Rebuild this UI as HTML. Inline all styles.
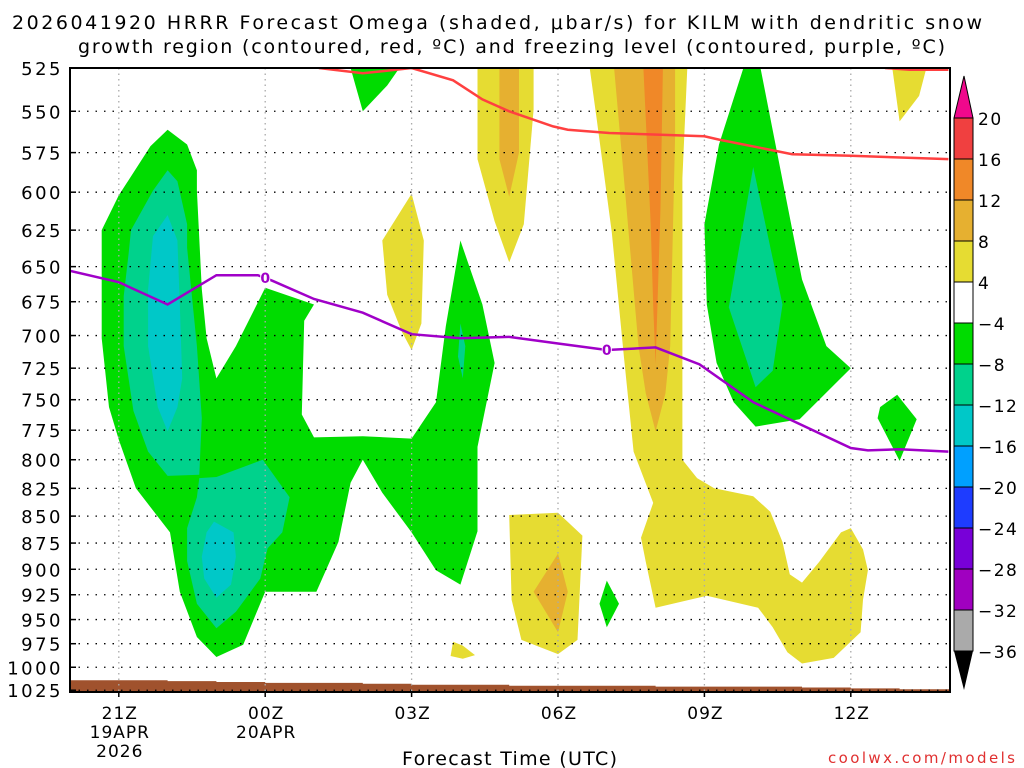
<!DOCTYPE html>
<html><head><meta charset="utf-8"><style>
html,body{margin:0;padding:0;background:#fff;width:1024px;height:768px;overflow:hidden}
svg{display:block}
text{font-family:"DejaVu Sans","Liberation Sans",sans-serif}
</style></head><body>
<svg id="chart" width="1024" height="768" viewBox="0 0 1024 768" xmlns="http://www.w3.org/2000/svg">
<text x="12" y="29" font-size="19" textLength="970" lengthAdjust="spacing">2026041920 HRRR Forecast Omega (shaded, μbar/s) for KILM with dendritic snow</text>
<text x="78" y="53" font-size="19" textLength="867" lengthAdjust="spacing">growth region (contoured, red, ºC) and freezing level (contoured, purple, ºC)</text>
<defs><clipPath id="plotclip"><rect x="70" y="68" width="880" height="624"/></clipPath></defs>
<g id="fills" clip-path="url(#plotclip)"></g>
<g id="grid"></g>
<g id="lines" clip-path="url(#plotclip)"></g>
<rect x="70" y="68" width="880" height="624" fill="none" stroke="#000" stroke-width="2"/>
<g id="axes"></g>
<g id="cbar"></g>
<text x="402" y="765" font-size="19" textLength="215" lengthAdjust="spacing">Forecast Time (UTC)</text>
<text x="828" y="763" font-size="15" fill="#e03030" textLength="187" lengthAdjust="spacing">coolwx.com/models</text>
</svg>
<script>
const pressureTicks=[525,550,575,600,625,650,675,700,725,750,775,800,825,850,875,900,925,950,975,1000,1025];
const timeTickHours=[1,4,7,10,13,16];
const timeTickLabels=[["21Z","19APR","2026"],["00Z","20APR"],["03Z"],["06Z"],["09Z"],["12Z"]];
const surfaceHours=[0,1,2,3,4,5,6,7,8,9,10,11,12,13,14,15,16,17,18];
const surfacePressure=[1014,1014,1015,1016,1017,1017,1018,1019,1019,1020,1020,1020,1021,1021,1021,1022,1023,1024,1024];
const dgzHours=[5.1,6.0,7.0,7.85,8.45,9.0,9.9,10.2,11.05,13.0,13.3,14.8,16.0,18.0];
const dgzPressure=[525,528,525,532,543,550,559,561,563,565,567,576,577,579];
const dgz2Hours=[16.7,17.2,18.0];
const dgz2Pressure=[525,526,526];
const frzHours=[0,1.0,2.0,3.0,3.85,4.15,5.0,6.0,7.0,8.0,9.0,10.0,11.0,12.0,12.9,14.0,16.0,16.35,17.0,18.0];
const frzPressure=[653,661,677,656,656,660,673,683,699,702,701,706,711,709,722,752,790,792,791,793];
const cbarLevels=["20","16","12","8","4","−4","−8","−12","−16","−20","−24","−28","−32","−36"];
const cbarColors=["#f04040","#f08828","#e6b030","#e6dc32","#ffffff","#00dc00","#00d28c","#00c8c8","#00a0ff","#1e3cff","#7800d8","#a000c0","#aaaaaa"];
const shadeGreenA=[[2.0,561],[2.4,570],[2.6,586],[2.6,599],[2.7,666],[2.8,702],[3.0,733],[3.4,708],[4.0,665],[5.0,677],[4.8,689],[4.75,762],[5.0,781],[6.0,780],[7.0,782],[7.5,752],[7.7,693],[8.0,632],[8.45,677],[8.7,721],[8.35,789],[8.35,864],[8.0,915],[7.5,901],[7.0,865],[6.4,829],[6.0,800],[5.75,820],[5.5,874],[5.05,922],[4.0,922],[3.55,976],[3.0,989],[2.6,968],[2.25,922],[2.05,865],[1.35,825],[1.0,783],[0.8,756],[0.65,702],[0.65,625],[1.0,602],[1.65,571]];
const shadeTealA=[[2.0,586],[2.2,593],[2.4,621],[2.4,637],[2.6,708],[2.7,765],[2.65,813],[2.0,814],[1.6,793],[1.3,759],[1.1,708],[1.1,671],[1.2,641],[1.25,625],[1.7,599]];
const shadeCyanA=[[2.0,615],[2.2,632],[2.25,677],[2.3,733],[2.2,756],[2.0,776],[1.8,756],[1.6,708],[1.6,666],[1.7,629]];
const shadeTealB=[[2.65,816],[3.0,815],[3.95,800],[4.5,833],[4.35,865],[4.05,880],[3.9,909],[3.4,942],[3.0,959],[2.6,934],[2.4,892],[2.4,861],[2.6,833]];
const shadeCyanB=[[2.95,855],[3.35,865],[3.4,888],[3.3,915],[3.0,928],[2.75,909],[2.7,888],[2.8,865]];
const shadeTealC=[[8.0,691],[8.1,708],[8.05,733],[7.95,716]];
const shadeGreenTop=[[5.75,525],[6.75,525],[6.5,535],[6.0,550],[5.85,535]];
const shadeYellow03=[[7.0,601],[7.25,632],[7.2,691],[7.0,711],[6.8,697],[6.5,670],[6.4,632]];
const shadeYellowTiny=[[7.85,973],[8.05,977],[8.3,987],[8.05,991],[7.8,988]];
const shadeYellow05=[[8.35,525],[9.5,525],[9.5,549],[9.3,621],[9.0,647],[8.7,619],[8.35,579]];
const shadeGold05=[[8.8,525],[9.2,525],[9.2,575],[9.0,603],[8.8,579]];
const shadeYellowCol=[[10.65,525],[12.65,525],[12.55,591],[12.55,677],[12.55,800],[12.85,816],[13.2,825],[14.0,832],[14.35,846],[14.6,874],[14.75,905],[15.0,913],[15.35,893],[15.8,865],[16.0,861],[16.25,881],[16.35,901],[16.25,930],[16.2,963],[15.65,990],[15.0,996],[14.7,984],[14.4,958],[14.1,938],[13.05,926],[12.0,938],[11.8,893],[11.7,870],[11.95,838],[11.55,793],[11.35,716],[11.1,626],[10.8,556]];
const shadeGoldCol=[[11.15,525],[12.4,525],[12.4,565],[12.3,708],[12.2,745],[12.0,776],[11.8,745],[11.65,708],[11.35,591]];
const shadeOrangeCol=[[11.75,525],[12.15,525],[12.1,610],[12.0,722],[11.95,678],[11.9,621]];
const shadeYellowBox=[[9.0,849],[10.0,847],[10.5,868],[10.4,971],[10.0,986],[9.25,971],[9.05,930]];
const shadeGoldBox=[[10.0,885],[10.2,922],[10.0,963],[9.5,922]];
const shadeGreen07=[[11.0,911],[11.25,934],[11.0,958],[10.85,934]];
const shadeGreen10=[[13.8,525],[14.15,525],[15.0,659],[15.5,708],[16.0,725],[14.95,766],[14.05,772],[13.6,752],[13.25,721],[13.05,677],[13.0,621],[13.3,570]];
const shadeTeal10=[[14.0,584],[14.6,677],[14.4,727],[14.05,740],[13.5,679]];
const shadeGreen13=[[16.95,746],[17.35,766],[17.0,801],[16.55,765],[16.6,756]];
const shadeYellowTR=[[16.85,525],[17.55,525],[17.4,541],[17.0,556]];

const X0=70,PXH=48.8,Y0=68,PY=930;
function xs(h){return X0+h*PXH;}
function ys(p){return Y0+PY*Math.log(p/525);}
const NS="http://www.w3.org/2000/svg";
function mk(tag,parent,attrs){const e=document.createElementNS(NS,tag);for(const k in attrs)e.setAttribute(k,attrs[k]);parent.appendChild(e);return e;}
const fills=document.getElementById('fills');
const layers=[
 ["#00dc00",shadeGreenA,"omega-region-green-left"],["#00d28c",shadeTealA,"omega-region-teal-upper"],["#00c8c8",shadeCyanA,"omega-region-cyan-upper"],
 ["#00d28c",shadeTealB,"omega-region-teal-lower"],["#00c8c8",shadeCyanB,"omega-region-cyan-lower"],["#00d28c",shadeTealC,"omega-region-teal-small"],
 ["#00dc00",shadeGreenTop,"omega-region-green-top"],["#e6dc32",shadeYellow03,"omega-region-yellow-03z"],["#e6dc32",shadeYellowTiny,"omega-region-yellow-tiny"],
 ["#e6dc32",shadeYellow05,"omega-region-yellow-05z"],["#e6b030",shadeGold05,"omega-region-gold-05z"],
 ["#e6dc32",shadeYellowCol,"omega-region-yellow-column"],["#e6b030",shadeGoldCol,"omega-region-gold-column"],["#f08828",shadeOrangeCol,"omega-region-orange-column"],
 ["#e6dc32",shadeYellowBox,"omega-region-yellow-06z"],["#e6b030",shadeGoldBox,"omega-region-gold-06z"],["#00dc00",shadeGreen07,"omega-region-green-07z"],
 ["#00dc00",shadeGreen10,"omega-region-green-10z"],["#00d28c",shadeTeal10,"omega-region-teal-10z"],["#00dc00",shadeGreen13,"omega-region-green-13z"],
 ["#e6dc32",shadeYellowTR,"omega-region-yellow-top-right"]];
layers.forEach(L=>{
 const el=mk('polygon',fills,{points:L[1].map(p=>xs(p[0]).toFixed(1)+","+ys(p[1]).toFixed(1)).join(" "),fill:L[0]});
 
 
});
let gp="M"+xs(0)+","+ys(1060);
surfaceHours.forEach((h,i)=>{gp+=" L"+xs(h)+","+ys(surfacePressure[i]).toFixed(1)+" L"+xs(h+1)+","+ys(surfacePressure[i]).toFixed(1);});
gp+=" L"+xs(19)+","+ys(1060)+"Z";
const ground=mk('path',fills,{d:gp,fill:"#a0522d"});


const grid=document.getElementById('grid');
pressureTicks.forEach(p=>{const l=mk('line',grid,{x1:70,x2:950,y1:ys(p),y2:ys(p),stroke:"#000","stroke-width":1.3,"stroke-dasharray":"1.5 7"});
 
 });
timeTickHours.forEach(h=>{const l=mk('line',grid,{x1:xs(h),x2:xs(h),y1:68,y2:692,stroke:"#aaa","stroke-width":1.3,"stroke-dasharray":"1.5 4"});
 
 });
const lines=document.getElementById('lines');
function poly(hs,ps){return hs.map((h,i)=>xs(h).toFixed(1)+","+ys(ps[i]).toFixed(1)).join(" ");}
const r1=mk('polyline',lines,{points:poly(dgzHours,dgzPressure),fill:"none",stroke:"#ff4040","stroke-width":2.5});


const r2=mk('polyline',lines,{points:poly(dgz2Hours,dgz2Pressure),fill:"none",stroke:"#ff4040","stroke-width":2.5});


const fz=mk('polyline',lines,{points:poly(frzHours,frzPressure),fill:"none",stroke:"#a000c8","stroke-width":2.5});


[[4.0,658],[11.0,711]].forEach(q=>{
 const bg=mk('rect',lines,{x:xs(q[0])-5,y:ys(q[1])-8,width:10,height:15,fill:"#fff"});
 
 
 const t=mk('text',lines,{x:xs(q[0]),y:ys(q[1])+5,"font-size":14,"font-weight":"bold",fill:"#a000c8","text-anchor":"middle"});
 t.textContent="0";
 
 
});
const axes=document.getElementById('axes');
pressureTicks.forEach(p=>{const t=mk('text',axes,{x:63,y:ys(p)+7,"font-size":18,"text-anchor":"end","letter-spacing":"2.5"});t.textContent=p;
 
 
 mk('line',axes,{x1:70,x2:76,y1:ys(p),y2:ys(p),stroke:"#000","stroke-width":1.5});});
timeTickHours.forEach((h,i)=>{
 mk('line',axes,{x1:xs(h),x2:xs(h),y1:692,y2:697,stroke:"#000","stroke-width":1.5});
 timeTickLabels[i].forEach((s,j)=>{const t=mk('text',axes,{x:xs(h)+1,y:719+j*19,"font-size":17,"text-anchor":"middle","letter-spacing":"1"});t.textContent=s;
 
 });
});
const cb=document.getElementById('cbar');
const cbTop=118,cbH=41;
const tri=mk('polygon',cb,{points:"954,118 964,76 973,118",fill:"#f0088c",stroke:"#000","stroke-width":1});


cbarColors.forEach((c,i)=>{const r=mk('rect',cb,{x:954,y:cbTop+i*cbH,width:19,height:cbH,fill:c,stroke:"#000","stroke-width":1});
 
 });
const tri2=mk('polygon',cb,{points:"954,651 964,690 973,651",fill:"#000"});


cbarLevels.forEach((s,i)=>{const t=mk('text',cb,{x:978,y:cbTop+i*cbH+7,"font-size":17,"letter-spacing":"1.5"});t.textContent=s;
 
 });
</script>
</body></html>
